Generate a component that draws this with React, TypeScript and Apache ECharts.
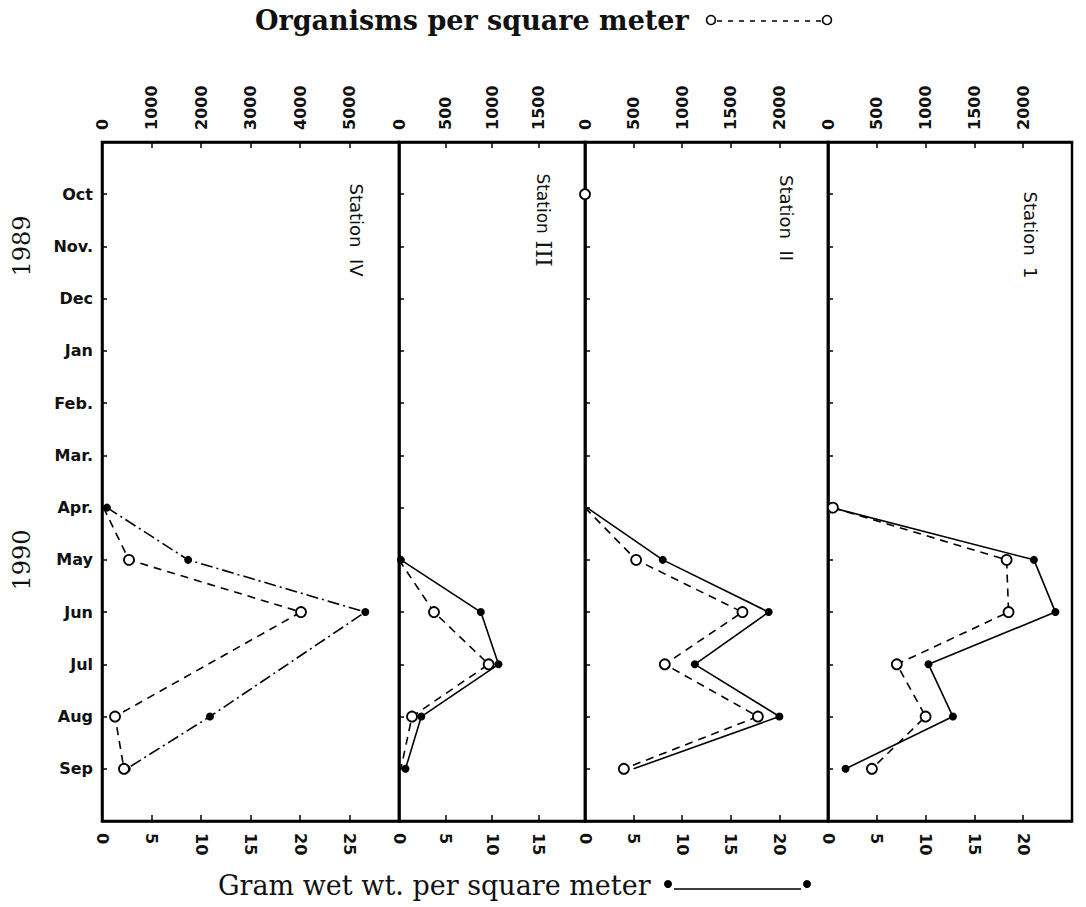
import React, { useEffect, useRef } from "react";
import * as echarts from "echarts";

// Months, Oct 1989 .. Sep 1990 (top to bottom)
const months = ["Oct", "Nov.", "Dec", "Jan", "Feb.", "Mar.", "Apr.", "May", "Jun", "Jul", "Aug", "Sep"];
const years = ["1989", "1990"];
const stationNames = ["IV", "III", "II", "1"];

// Grams wet wt. per square meter (solid line, filled dots)
const gramsIV = [null, null, null, null, null, null, 0.5, 8.7, 26.6, null, 10.9, 2.5];
const gramsIII = [null, null, null, null, null, null, null, 0.2, 8.8, 10.7, 2.4, 0.7];
const gramsII = [null, null, null, null, null, null, 0.2, 8.0, 18.9, 11.3, 20.0, 5.0];
const gramsI = [null, null, null, null, null, null, 0.4, 21.1, 23.3, 10.3, 12.8, 1.8];

// Organisms per square meter (dashed line, open circles)
const organismsIV = [null, null, null, null, null, null, 30, 545, 4020, null, 263, 444];
const organismsIII = [null, null, null, null, null, null, null, 0, 376, 964, 140, 20];
const organismsII = [0, null, null, null, null, null, 0, 526, 1620, 821, 1779, 400];
const organismsI = [null, null, null, null, null, null, 50, 1830, 1850, 705, 1000, 450];

// Axis scales per panel (IV, III, II, I)
const organismsMax = [6000, 2000, 2500, 2500];
const organismsStep = [1000, 500, 500, 500];
const gramsMax = [30, 20, 25, 25];
const gramsStep = [5, 5, 5, 5];

const gramsData = [gramsIV, gramsIII, gramsII, gramsI];
const organismsData = [organismsIV, organismsIII, organismsII, organismsI];

export default function App() {
  const ref = useRef<HTMLDivElement>(null);

  useEffect(() => {
    if (!ref.current) return;
    const chart = echarts.init(ref.current, null, { renderer: "svg" });

    const gridLeft = [102, 399, 585, 828];
    const gridWidth = [297, 186, 243, 244];
    const top = 142;
    const height = 679;

    const labelFont = { fontFamily: "DejaVu Sans", fontWeight: "bold" as const, fontSize: 16, color: "#111" };

    const grids = gridLeft.map((l, i) => ({
      left: l,
      width: gridWidth[i],
      top,
      height,
      show: true,
      borderColor: "#000",
      borderWidth: 2.5,
      backgroundColor: "transparent",
    }));

    const xAxes: any[] = [];
    gridLeft.forEach((_, g) => {
      [
        { position: "top", max: organismsMax[g], interval: organismsStep[g] },
        { position: "bottom", max: gramsMax[g], interval: gramsStep[g] },
      ].forEach((a) => {
        xAxes.push({
          type: "value",
          gridIndex: g,
          position: a.position,
          min: 0,
          max: a.max,
          interval: a.interval,
          axisLine: { show: true, onZero: false, lineStyle: { color: "#000", width: 2.5 } },
          axisTick: { show: true, inside: true, length: 6, lineStyle: { color: "#000", width: 1.5 } },
          axisLabel: {
            ...labelFont,
            rotate: -90,
            margin: 12,
            showMaxLabel: false,
            formatter: (v: number) => String(v),
          },
          splitLine: { show: false },
        });
      });
    });

    const yAxes = gridLeft.map((_, g) => ({
      type: "value",
      gridIndex: g,
      inverse: true,
      min: -1,
      max: 12,
      interval: 1,
      axisLine: { show: true, onZero: false, lineStyle: { color: "#000", width: 2.5 } },
      axisTick: { show: true, inside: true, length: 5, lineStyle: { color: "#000", width: 1.5 } },
      axisLabel: {
        show: g === 0,
        ...labelFont,
        margin: 9,
        formatter: (v: number) => (Number.isInteger(v) && v >= 0 && v < months.length ? months[v] : ""),
      },
      splitLine: { show: false },
    }));

    // points whose marker is not visible in the figure: [panel, month]
    const hiddenGramDots: Array<[number, number]> = [[2, 11], [2, 6], [3, 6]];
    const hiddenOrganismDots: Array<[number, number]> = [[0, 6], [1, 7], [2, 6], [1, 11]];
    const isHidden = (list: Array<[number, number]>, g: number, i: number) =>
      list.some(([s, m]) => s === g && m === i);

    const series: any[] = [];
    gridLeft.forEach((_, g) => {
      series.push({
        type: "line",
        xAxisIndex: 2 * g + 1,
        yAxisIndex: g,
        connectNulls: true,
        z: 2,
        symbol: "circle",
        symbolSize: 8,
        lineStyle: { color: "#000", width: 1.6, type: g === 0 ? [12, 4, 2, 4] : "solid" },
        itemStyle: { color: "#000" },
        data: gramsData[g].map((v, i) => {
          if (v === null) return ["-", i];
          return isHidden(hiddenGramDots, g, i) ? { value: [v, i], symbol: "none" } : [v, i];
        }),
      });
      series.push({
        type: "line",
        xAxisIndex: 2 * g,
        yAxisIndex: g,
        connectNulls: g !== 2,
        z: 3,
        symbol: "circle",
        symbolSize: 10,
        lineStyle: { color: "#000", width: 1.6, type: [8, 6] },
        itemStyle: { color: "#fff", borderColor: "#000", borderWidth: 1.8 },
        data: organismsData[g].map((v, i) => {
          if (v === null) return ["-", i];
          return isHidden(hiddenOrganismDots, g, i) ? { value: [v, i], symbol: "none" } : [v, i];
        }),
      });
    });

    const stationX = [356, 543, 786, 1030];
    const stationY = [230, 220, 218, 235];
    const stationGraphics = stationNames.map((n, i) => ({
      type: "text",
      x: stationX[i],
      y: stationY[i],
      rotation: -Math.PI / 2,
      style:
        i === 1
          ? {
              text: "{a|Station}  {b|" + n + "}",
              rich: {
                a: { fontSize: 17, fontFamily: "DejaVu Sans", fill: "#111" },
                b: { fontSize: 22, fontFamily: "DejaVu Serif", fill: "#111" },
              },
              align: "center",
              verticalAlign: "middle",
            }
          : {
              text: "Station  " + n,
              fontSize: 18,
              fontFamily: "DejaVu Sans",
              fill: "#111",
              align: "center",
              verticalAlign: "middle",
            },
    }));

    const yearY = [246, 560];
    const yearGraphics = years.map((y, i) => ({
      type: "text",
      x: 22,
      y: yearY[i],
      rotation: Math.PI / 2,
      style: { text: y, fontSize: 24, fontFamily: "DejaVu Serif", fill: "#111", align: "center", verticalAlign: "middle" },
    }));

    chart.setOption({
      animation: false,
      backgroundColor: "#fff",
      grid: grids,
      xAxis: xAxes,
      yAxis: yAxes,
      series,
      graphic: [
        {
          type: "text",
          x: 255,
          y: 20,
          style: {
            text: "Organisms per square meter",
            fontSize: 27,
            fontWeight: "bold",
            fontFamily: "DejaVu Serif",
            fill: "#111",
            align: "left",
            verticalAlign: "middle",
          },
        },
        { type: "circle", shape: { cx: 711, cy: 20, r: 4.5 }, style: { fill: "#fff", stroke: "#000", lineWidth: 1.6 } },
        { type: "line", shape: { x1: 717, y1: 21, x2: 821, y2: 21 }, style: { stroke: "#000", lineWidth: 1.6, lineDash: [5, 6] } },
        { type: "circle", shape: { cx: 827, cy: 20, r: 4.5 }, style: { fill: "#fff", stroke: "#000", lineWidth: 1.6 } },
        {
          type: "text",
          x: 218,
          y: 885,
          style: {
            text: "Gram wet wt. per square meter",
            fontSize: 27,
            fontFamily: "DejaVu Serif",
            fill: "#111",
            align: "left",
            verticalAlign: "middle",
          },
        },
        { type: "circle", shape: { cx: 668, cy: 884, r: 4 }, style: { fill: "#000" } },
        { type: "line", shape: { x1: 674, y1: 889, x2: 801, y2: 889 }, style: { stroke: "#000", lineWidth: 1.6 } },
        { type: "circle", shape: { cx: 807, cy: 884, r: 4 }, style: { fill: "#000" } },
        ...stationGraphics,
        ...yearGraphics,
      ],
    });

    return () => chart.dispose();
  }, []);

  return <div ref={ref} style={{ position: "absolute", left: 0, top: 0, width: 1086, height: 907 }} />;
}
